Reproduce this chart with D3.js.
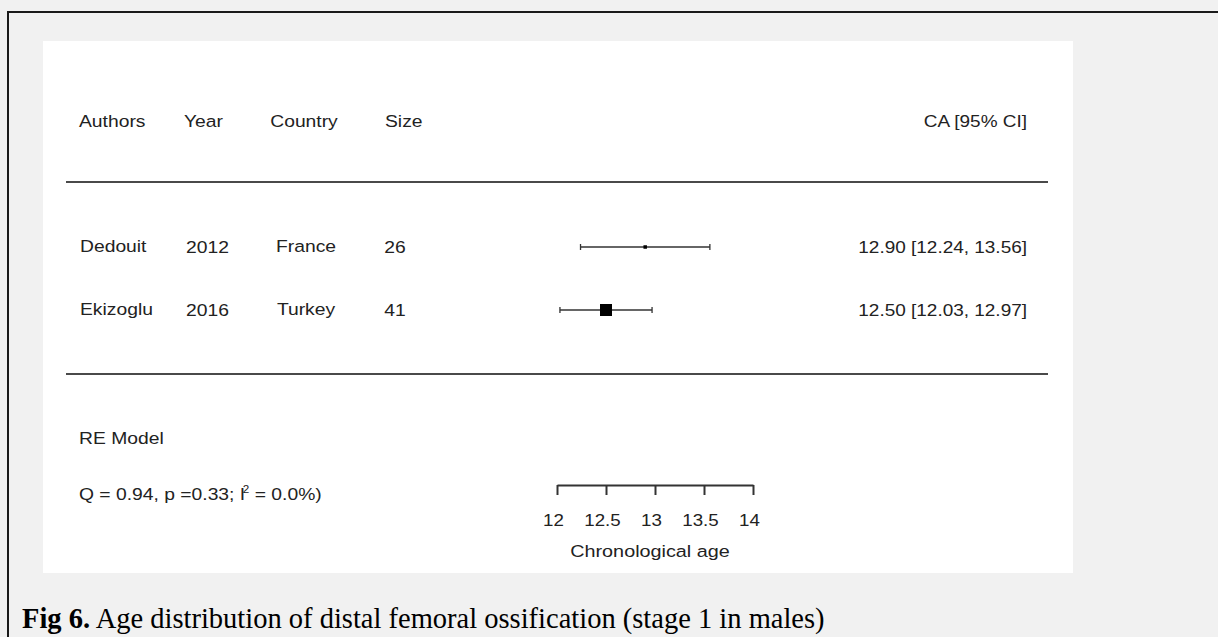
<!DOCTYPE html>
<html>
<head>
<meta charset="utf-8">
<script src="https://cdn.jsdelivr.net/npm/d3@7"></script>
<style>
  html, body { margin: 0; padding: 0; background: #f1f1f1; }
  svg { display: block; }
  text { font-family: "Liberation Sans", Arial, sans-serif; fill: #222; }
</style>
</head>
<body>
<svg id="chart" width="1218" height="637"></svg>
<script>
// ---- data ----
const headers = ["Authors", "Year", "Country", "Size", "CA [95% CI]"];
const authors = ["Dedouit", "Ekizoglu"];
const years = ["2012", "2016"];
const countries = ["France", "Turkey"];
const sizes = [26, 41];
const estimates = [12.90, 12.50];
const lower = [12.24, 12.03];
const upper = [13.56, 12.97];
const tickValues = [12, 12.5, 13, 13.5, 14];
const axisTitle = "Chronological age";
const modelLabel = "RE Model";
const caption = ["Fig 6.", " Age distribution of distal femoral ossification (stage 1 in males)"];

// ---- drawing ----
const svg = d3.select("#chart");
const SX = 1.17;   // horizontal text stretch seen in the reference
const SXR = 1.15;

// page background & frame
svg.append("rect").attr("x", 0).attr("y", 0).attr("width", 1218).attr("height", 637).attr("fill", "#f1f1f1");
svg.append("rect").attr("x", 43).attr("y", 41).attr("width", 1030).attr("height", 532).attr("fill", "#ffffff");
svg.append("path").attr("d", "M8,637 V12 H1218").attr("fill", "none").attr("stroke", "#1a1a1a").attr("stroke-width", 2);

function txt(g, x, y, s, anchor, sx, size) {
  return g.append("text")
    .attr("transform", `translate(${x},${y}) scale(${sx},1)`)
    .attr("text-anchor", anchor || "start")
    .style("font-size", (size || 16.5) + "px")
    .text(s);
}

const x = d3.scaleLinear().domain([12, 14]).range([557, 753]);
const y = d3.scaleLinear().domain([0, 1]).range([247, 310]);

// weights (inverse variance from CI) -> marker size
const se = lower.map((l, i) => (upper[i] - l) / 3.92);
const w = se.map(s => 1 / (s * s));
const msize = d3.scaleLinear().domain(d3.extent(w)).range([3.5, 12]);

const g = svg.append("g");

// header
txt(g, 79, 127, headers[0], "start", SX);
txt(g, 184, 127, headers[1], "start", SX);
txt(g, 304, 127, headers[2], "middle", SX);
txt(g, 385, 127, headers[3], "start", SX);
txt(g, 1027, 127, headers[4], "end", SXR);

// horizontal rules
[182, 374].forEach(yy => {
  g.append("line").attr("x1", 66).attr("x2", 1048).attr("y1", yy).attr("y2", yy)
    .attr("stroke", "#4a4a4a").attr("stroke-width", 2);
});

// rows
authors.forEach((a, i) => {
  const yy = y(i);
  const by = yy + 6;
  txt(g, 80, by - 1, a, "start", SX);
  txt(g, 186, by, years[i], "start", SX);
  txt(g, 306, by - 1, countries[i], "middle", SX);
  txt(g, 395, by, String(sizes[i]), "middle", SX);
  txt(g, 1027, by, `${estimates[i].toFixed(2)} [${lower[i].toFixed(2)}, ${upper[i].toFixed(2)}]`, "end", SXR);

  // CI line
  g.append("line").attr("x1", x(lower[i])).attr("x2", x(upper[i])).attr("y1", yy).attr("y2", yy)
    .attr("stroke", "#333").attr("stroke-width", 1.3);
  [lower[i], upper[i]].forEach(v => {
    g.append("line").attr("x1", x(v)).attr("x2", x(v)).attr("y1", yy - 3).attr("y2", yy + 3)
      .attr("stroke", "#333").attr("stroke-width", 1.3);
  });
  const s = msize(w[i]);
  g.append("rect").attr("x", x(estimates[i]) - s / 2).attr("y", yy - s / 2)
    .attr("width", s).attr("height", s).attr("fill", "#000");
});

// RE model text
txt(g, 79, 444, modelLabel, "start", SX);
const q = g.append("text")
  .attr("transform", `translate(79,500) scale(${SX},1)`)
  .style("font-size", "16.5px");
q.append("tspan").text("Q = 0.94, p =0.33; I");
q.append("tspan").attr("dy", -7).attr("dx", -2).style("font-size", "10px").text("2");
q.append("tspan").attr("dy", 7).text(" = 0.0%)");

// axis
const axis = d3.axisBottom(x).tickValues(tickValues).tickSize(10).tickSizeOuter(0)
  .tickFormat(d => String(d));
const ag = svg.append("g").attr("transform", "translate(0,485)").call(axis);
ag.select(".domain").attr("stroke", "#333").attr("stroke-width", 2);
ag.selectAll(".tick line").attr("stroke", "#333").attr("stroke-width", 2);
ag.selectAll(".tick text")
  .attr("y", 0).attr("dy", 0)
  .attr("transform", `translate(-4,41) scale(${SX},1)`)
  .style("font-size", "16px")
  .style("font-family", '"Liberation Sans", Arial, sans-serif')
  .attr("fill", "#222");
txt(svg, 650, 557, axisTitle, "middle", 1.2, 16.5);

// caption
const cap = svg.append("text").attr("x", 22).attr("y", 628)
  .style("font-family", '"Liberation Serif", "Times New Roman", serif')
  .style("font-size", "28.5px").attr("fill", "#000");
cap.append("tspan").style("font-weight", "bold").style("fill", "#000").text(caption[0]);
cap.append("tspan").style("fill", "#000").text(caption[1]);
</script>
</body>
</html>
